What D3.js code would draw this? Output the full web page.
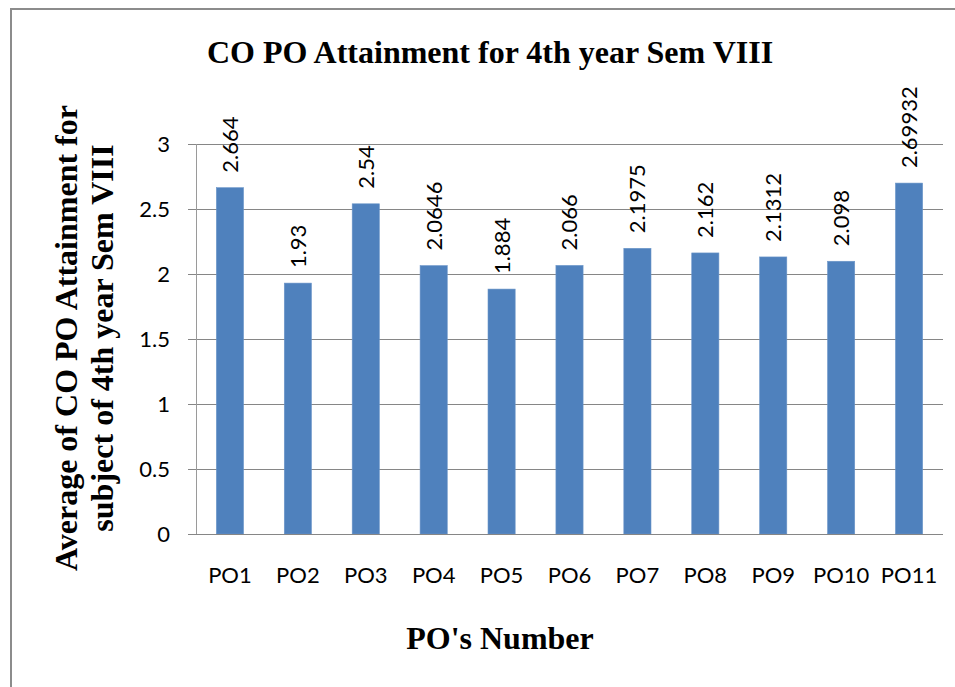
<!DOCTYPE html>
<html>
<head>
<meta charset="utf-8">
<script src="https://cdn.jsdelivr.net/npm/d3@7"></script>
<style>
  html, body { margin: 0; padding: 0; background: #fff; }
  svg { display: block; }
</style>
</head>
<body>
<svg id="chart" width="955" height="687"></svg>
<script>
const categories = ["PO1","PO2","PO3","PO4","PO5","PO6","PO7","PO8","PO9","PO10","PO11"];
const values = [2.664, 1.93, 2.54, 2.0646, 1.884, 2.066, 2.1975, 2.162, 2.1312, 2.098, 2.69932];
const valueLabels = ["2.664","1.93","2.54","2.0646","1.884","2.066","2.1975","2.162","2.1312","2.098","2.69932"];
const yTicks = [0, 0.5, 1, 1.5, 2, 2.5, 3];
const yTickLabels = ["0","0.5","1","1.5","2","2.5","3"];
const titleText = "CO PO Attainment for 4th year Sem VIII";
const yTitleLines = ["Average of CO PO Attainment for", "subject of 4th year Sem VIII"];
const xTitleText = "PO's Number";

const svg = d3.select("#chart");
const W = 955, H = 687;
const plot = { left: 196, right: 943, top: 144, bottom: 534 };
const sansFont = "Lato, 'Open Sans', sans-serif";
const serifFont = "'Liberation Serif', 'DejaVu Serif', serif";

// frame
svg.append("rect")
  .attr("x", 11).attr("y", 9)
  .attr("width", W + 20).attr("height", H + 20)
  .attr("fill", "#fff").attr("stroke", "#8c8c8c").attr("stroke-width", 2);

const x = d3.scaleBand().domain(categories)
  .range([plot.left, plot.right]).paddingInner(0.6).paddingOuter(0.3);
const y = d3.scaleLinear().domain([0, 3]).range([plot.bottom, plot.top]);

// gridlines
svg.append("g").selectAll("line").data(yTicks.filter(d => d > 0)).join("line")
  .attr("x1", plot.left).attr("x2", plot.right)
  .attr("y1", d => y(d)).attr("y2", d => y(d))
  .attr("stroke", "#868686").attr("stroke-width", 1).attr("shape-rendering", "crispEdges");

// y axis
const yAxis = d3.axisLeft(y).tickValues(yTicks)
  .tickFormat((d, i) => yTickLabels[i]).tickSize(8).tickPadding(18);
const gy = svg.append("g").attr("transform", `translate(${plot.left},0)`).call(yAxis);
gy.select(".domain").attr("stroke", "#9a9a9a").attr("shape-rendering", "crispEdges");
gy.selectAll(".tick line").attr("stroke", "#868686").attr("shape-rendering", "crispEdges");
gy.selectAll(".tick text").attr("font-family", sansFont).attr("font-size", 22).attr("fill", "#000");

// bars
svg.append("g").selectAll("rect").data(values).join("rect")
  .attr("x", (d, i) => x(categories[i]))
  .attr("y", d => y(d))
  .attr("width", x.bandwidth())
  .attr("height", d => y(0) - y(d))
  .attr("fill", "#4f81bd")
  .attr("stroke", "#6b95c8").attr("stroke-width", 0.6);

// x axis
const xAxis = d3.axisBottom(x).tickSize(0).tickPadding(33);
const gx = svg.append("g").attr("transform", `translate(0,${plot.bottom})`).call(xAxis);
gx.select(".domain").attr("stroke", "#868686").attr("shape-rendering", "crispEdges")
  .attr("d", `M${plot.left - 8},0.5H${plot.right}`);
gx.selectAll(".tick text").attr("font-family", sansFont).attr("font-size", 22).attr("fill", "#000");

// data labels
svg.append("g").selectAll("text").data(values).join("text")
  .attr("transform", (d, i) => `translate(${x(categories[i]) + x.bandwidth() / 2},${y(d) - 15}) rotate(-90)`)
  .attr("dy", "0.36em")
  .attr("text-anchor", "start")
  .attr("font-family", sansFont).attr("font-size", 22).attr("fill", "#000")
  .text((d, i) => valueLabels[i]);

// title
svg.append("text")
  .attr("x", 490).attr("y", 63)
  .attr("text-anchor", "middle")
  .attr("font-family", serifFont).attr("font-weight", "bold").attr("font-size", 32)
  .attr("fill", "#000")
  .text(titleText);

// y title
const yBase = [77, 113];
svg.append("g").selectAll("text").data(yTitleLines).join("text")
  .attr("transform", (d, i) => `translate(${yBase[i]},338) rotate(-90)`)
  .attr("text-anchor", "middle")
  .attr("font-family", serifFont).attr("font-weight", "bold").attr("font-size", 32)
  .attr("fill", "#000")
  .text(d => d);

// x title
svg.append("text")
  .attr("x", 500).attr("y", 649)
  .attr("text-anchor", "middle")
  .attr("font-family", serifFont).attr("font-weight", "bold").attr("font-size", 32)
  .attr("fill", "#000")
  .text(xTitleText);
</script>
</body>
</html>
